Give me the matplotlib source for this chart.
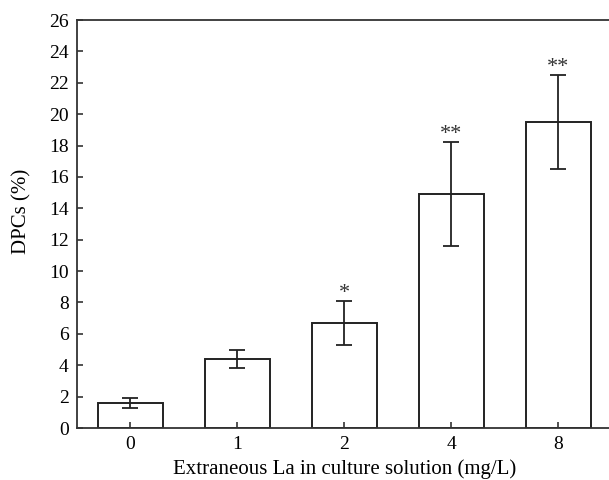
import matplotlib
matplotlib.use("Agg")
import matplotlib.pyplot as plt
import numpy as np

# La concentration groups and DPC values
doses = ["0", "1", "2", "4", "8"]
dpc_mean = [1.6, 4.4, 6.7, 14.9, 19.5]
dpc_err = [0.3, 0.6, 1.4, 3.3, 3.0]
signif = ["", "", "*", "**", "**"]
yticks = list(range(0, 27, 2))

plt.rcParams["font.family"] = ["Liberation Serif", "DejaVu Serif"]

fig = plt.figure(figsize=(6.09, 4.8), dpi=100)
ax = fig.add_axes([0.1264, 0.1083, 0.8785, 0.85])

x = np.arange(len(doses))
ax.bar(x, dpc_mean, width=0.6, color="white", edgecolor="#222222", linewidth=1.4)
ax.errorbar(x, dpc_mean, yerr=dpc_err, fmt="none", ecolor="#222222",
            elinewidth=1.3, capsize=6, capthick=1.3)

# significance marks above the upper caps
for xi, m, e, s in zip(x, dpc_mean, dpc_err, signif):
    if s:
        ax.text(xi, m + e + 0.5, s, ha="center", va="center", fontsize=16,
                color="#333333")

ax.set_xlim(-0.5, 4.5)
ax.set_ylim(0, 26)
ax.set_xticks(x)
ax.set_xticklabels(doses)
ax.set_yticks(yticks)

for side in ["left", "bottom", "top", "right"]:
    ax.spines[side].set_linewidth(1.3)
    ax.spines[side].set_color("#333333")

ax.tick_params(axis="both", direction="in", length=4, width=1.2,
               labelsize=14, colors="#333333", labelcolor="black")
ax.tick_params(axis="x", pad=6)
ax.tick_params(axis="y", pad=6)

ax.set_xlabel("Extraneous La in culture solution (mg/L)", fontsize=15, labelpad=4)
ax.set_ylabel("DPCs (%)", fontsize=15)
ax.yaxis.set_label_coords(-0.085, 0.53)

fig.savefig("out.png", dpi=100)
